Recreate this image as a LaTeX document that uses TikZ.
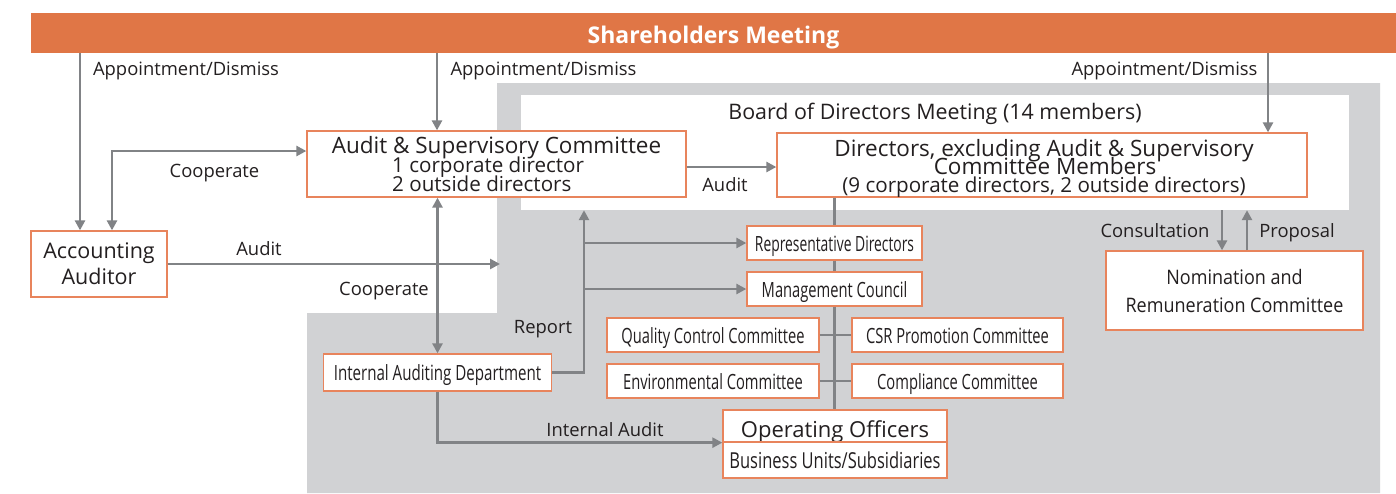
\documentclass[tikz,border=0pt]{standalone}
\usepackage{fontspec}
\setmainfont{Open Sans}
\newfontfamily\condA[FakeStretch=0.66]{Open Sans}
\newfontfamily\condC[FakeStretch=0.70]{Open Sans}
\newfontfamily\condD[FakeStretch=0.72]{Open Sans}
\newfontfamily\condE[FakeStretch=0.75]{Open Sans}
\newfontfamily\condB[FakeStretch=0.90]{Open Sans}
\usetikzlibrary{arrows.meta}
\definecolor{orbar}{HTML}{E07646}
\definecolor{orline}{HTML}{E8845C}
\definecolor{grayfill}{HTML}{D1D2D4}
\definecolor{arrowgray}{HTML}{818386}
\definecolor{txt}{HTML}{231F20}
\begin{document}
\begin{tikzpicture}[x=1pt,y=-1pt,
 box/.style={draw=orline,line width=1.3pt,fill=white,inner sep=0pt,text=txt},
 cbox/.style={box,font=\condC\fontsize{21}{21}\selectfont,text height=16pt,text depth=0pt},
 lbl/.style={anchor=base,inner sep=0pt,text=txt,font=\fontsize{18.4}{20}\selectfont},
 arr/.style={draw=arrowgray,line width=2.6pt,-{Triangle[length=10pt,width=10pt]}},
 arrb/.style={draw=arrowgray,line width=2.6pt,{Triangle[length=10pt,width=10pt]}-{Triangle[length=10pt,width=10pt]}},
 ln/.style={draw=arrowgray,line width=2.6pt}]
\fill[white] (0,0) rectangle (1396,493);
\useasboundingbox (0,0) rectangle (1396,493);
% gray region
\fill[grayfill] (497,83) -- (1380,83) -- (1380,493) -- (307,493) -- (307,313) -- (497,313) -- cycle;
% board
\node[fill=white,inner sep=0pt,minimum width=828pt,minimum height=115pt] (board) at (935,152.5) {};
\node[lbl,font=\fontsize{21.4}{21}\selectfont] (boardT) at (935,119) {Board of Directors Meeting (14 members)};
% shareholders
\node[fill=orbar,inner sep=0pt,minimum width=1365pt,minimum height=40pt,text=white,font=\bfseries\fontsize{23}{23}\selectfont,text height=20pt,text depth=0pt] (sh) at (713.5,33) {Shareholders Meeting};
% boxes
\node[box,minimum width=136pt,minimum height=66pt,align=center,font=\fontsize{21.5}{26}\selectfont] (acc) at (99,264) {Accounting\\Auditor};
\node[box,minimum width=379pt,minimum height=66pt] (asc) at (496.5,164) {};
\node[lbl,font=\fontsize{22.5}{22}\selectfont] (ascT) at (496.5,153) {Audit \& Supervisory Committee};
\node[lbl,anchor=base west,font=\fontsize{20.6}{20}\selectfont] (ascA) at (392,172) {1 corporate director};
\node[lbl,anchor=base west,font=\fontsize{20.6}{20}\selectfont] (ascB) at (392,191) {2 outside directors};
\node[box,minimum width=530pt,minimum height=64pt] (dir) at (1042,165) {};
\node[lbl,font=\fontsize{22.5}{22}\selectfont] (dirA) at (1044,156) {Directors, excluding Audit \& Supervisory};
\node[lbl,font=\fontsize{22.5}{22}\selectfont] (dirB) at (1045,174) {Committee Members};
\node[lbl,font=\fontsize{20.6}{20}\selectfont] (dirC) at (1044,192) {(9 corporate directors, 2 outside directors)};
\node[cbox,font=\condA\fontsize{21}{21}\selectfont,minimum width=175pt,minimum height=34pt] (rep) at (834.5,243) {Representative Directors};
\node[cbox,minimum width=175pt,minimum height=34pt] (mgmt) at (834.5,289) {Management Council};
\node[cbox,minimum width=212pt,minimum height=34pt] (qc) at (713,335) {Quality Control Committee};
\node[cbox,minimum width=212pt,minimum height=34pt] (env) at (713,381) {Environmental Committee};
\node[cbox,minimum width=211pt,minimum height=34pt] (csr) at (957.5,335) {CSR Promotion Committee};
\node[cbox,minimum width=211pt,minimum height=34pt] (comp) at (957.5,381) {Compliance Committee};
\node[cbox,font=\condD\fontsize{21}{21}\selectfont,minimum width=228pt,minimum height=37pt] (iad) at (437.5,372.5) {Internal Auditing Department};
\node[box,minimum width=224pt,minimum height=32pt,font=\fontsize{22}{22}\selectfont,text height=22pt,text depth=0pt] (oo) at (835,426) {Operating Officers};
\node[cbox,font=\condE\fontsize{22}{22}\selectfont,minimum width=224pt,minimum height=36pt] (bu) at (835,460) {Business Units/Subsidiaries};
\node[box,minimum width=257pt,minimum height=79pt,align=center,font=\condB\fontsize{20}{28}\selectfont] (nrc) at (1234.5,290.5) {\rule{0pt}{6pt}Nomination and\\Remuneration Committee};
% labels
\node[lbl] (ap1) at (186,75) {Appointment/Dismiss};
\node[lbl] (ap2) at (543.5,75) {Appointment/Dismiss};
\node[lbl] (ap3) at (1164.5,75) {Appointment/Dismiss};
\node[lbl] (co1) at (214.5,177) {Cooperate};
\node[lbl] (au1) at (259,255) {Audit};
\node[lbl] (co2) at (384,295) {Cooperate};
\node[lbl] (au2) at (725,191) {Audit};
\node[lbl] (rp) at (543,333) {Report};
\node[lbl] (ia) at (605,436) {Internal Audit};
\node[lbl] (cons) at (1155,237) {Consultation};
\node[lbl] (prop) at (1297,237) {Proposal};
% coordinates
\coordinate (xA) at (80,0);
\coordinate (xB) at (112,0);
\coordinate (xD) at (1268,0);
\coordinate (xC) at (437,0);
\coordinate (xR) at (584,0);
\coordinate (xK) at (1222,0);
\coordinate (xP) at (1247,0);
\coordinate (yCo) at (0,151);
\coordinate (yAu) at (0,167);
\coordinate (grayE) at (500,264);
% connectors
\draw[arr] (sh.south -| xA) -- (acc.north -| xA);
\draw[arr] (sh.south -| xC) -- (asc.north -| xC);
\draw[arr] (sh.south -| xD) -- (dir.north -| xD);
\draw[arrb] (acc.north -| xB) |- (asc.west |- yCo);
\draw[arr] (acc.east) -- (grayE);
\draw[arr] (asc.east |- yAu) -- (dir.west |- yAu);
\draw[arrb] (iad.north) -- (asc.south -| iad.north);
\draw[arr] (iad.east) -| (board.south -| xR);
\draw[arr] (rep.west -| xR) -- (rep.west);
\draw[arr] (mgmt.west -| xR) -- (mgmt.west);
\draw[ln] (dir.south -| rep.north) -- (rep.north);
\draw[ln] (rep.south) -- (mgmt.north);
\draw[ln] (mgmt.south) -- (oo.north -| mgmt.south);
\draw[ln] (qc.east) -- (csr.west);
\draw[ln] (env.east) -- (comp.west);
\draw[arr] (iad.south) |- (oo.south west);
\draw[arr] (board.south -| xK) -- (nrc.north -| xK);
\draw[arr] (nrc.north -| xP) -- (board.south -| xP);
\end{tikzpicture}
\end{document}
